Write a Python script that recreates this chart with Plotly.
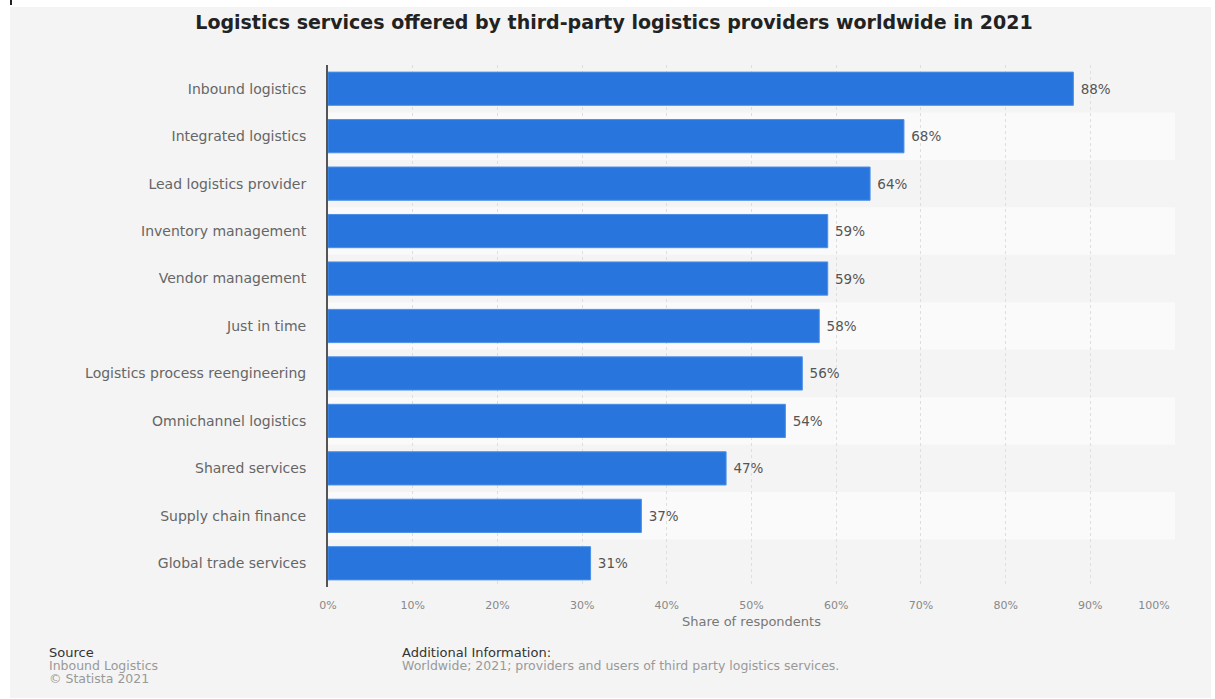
import plotly.graph_objects as go

categories = [
    "Inbound logistics", "Integrated logistics", "Lead logistics provider",
    "Inventory management", "Vendor management", "Just in time",
    "Logistics process reengineering", "Omnichannel logistics",
    "Shared services", "Supply chain finance", "Global trade services",
]
values = [88, 68, 64, 59, 59, 58, 56, 54, 47, 37, 31]
tick_vals = [0, 10, 20, 30, 40, 50, 60, 70, 80, 90, 100]
tick_text = ["0%", "10%", "20%", "30%", "40%", "50%", "60%", "70%", "80%", "90%",
             "100%" + "\u00a0" * 12]

W, H = 1215, 699
L, R, T, B = 328, 40, 65, 112
FONT = "DejaVu Sans"
pw = W - L - R
ph = H - T - B


def px(x):
    return (x - L) / pw


def py(y):
    return (H - B - y) / ph


fig = go.Figure()
fig.add_trace(go.Bar(
    x=values, y=categories, orientation="h",
    marker=dict(color="#2876dd", line=dict(color="#4a90e8", width=1)),
    text=[f"\u00a0{v}%" for v in values], textposition="outside",
    textfont=dict(family=FONT, size=13.5, color="#555555"),
    cliponaxis=False, hoverinfo="skip",
))

shapes = [dict(type="rect", xref="paper", yref="paper", layer="below",
               x0=px(10), x1=px(1211), y0=py(698), y1=py(7),
               fillcolor="#f4f4f4", line=dict(width=0)),
          dict(type="line", xref="paper", yref="paper", layer="above",
               x0=px(11), x1=px(11), y0=py(0), y1=py(5),
               line=dict(color="#222222", width=2))]
for i in range(len(categories)):
    if i % 2 == 1:
        shapes.append(dict(type="rect", xref="paper", yref="y", layer="below",
                           x0=0, x1=1, y0=i - 0.5, y1=i + 0.5,
                           fillcolor="#fafafa", line=dict(width=0)))


def note(text, x, y, size, color):
    return dict(text=text, x=px(x - 3), y=py(y), xref="paper", yref="paper",
                showarrow=False, xanchor="left", yanchor="middle",
                font=dict(family=FONT, size=size, color=color))


fig.update_layout(
    width=W, height=H,
    margin=dict(l=L, r=R, t=T, b=B, autoexpand=False),
    paper_bgcolor="white", plot_bgcolor="rgba(0,0,0,0)",
    showlegend=False, bargap=0.3,
    shapes=shapes,
    title=dict(text="<b>Logistics services offered by third-party logistics providers worldwide in 2021</b>",
               x=614 / W, xref="container", xanchor="center",
               y=1 - 22 / H, yref="container", yanchor="middle",
               font=dict(family=FONT, size=19, color="#222222")),
    xaxis=dict(range=[0, 100], tickvals=tick_vals, ticktext=tick_text,
               automargin=False,
               showgrid=True, gridcolor="#dedede", griddash="dot", gridwidth=1,
               zeroline=False, showline=False,
               ticks="outside", ticklen=8, tickcolor="rgba(0,0,0,0)",
               tickfont=dict(family=FONT, size=11, color="#888888"),
               title=dict(text="Share of respondents", standoff=5,
                          font=dict(family=FONT, size=13, color="#777777"))),
    yaxis=dict(categoryorder="array", categoryarray=categories, autorange="reversed",
               automargin=False,
               showgrid=False, showline=True, linecolor="#555555", linewidth=2,
               ticks="outside", ticklen=17, tickcolor="rgba(0,0,0,0)",
               tickfont=dict(family=FONT, size=14, color="#666666")),
    annotations=[
        note("Source", 50, 652, 13, "#333333"),
        note("Inbound Logistics", 50, 665, 12.5, "#999999"),
        note("© Statista 2021", 50, 678, 12.5, "#999999"),
        note("Additional Information:", 403, 652, 13, "#333333"),
        note("Worldwide; 2021; providers and users of third party logistics services.",
             403, 665, 12.5, "#999999"),
    ],
)

fig.write_html("out.html")
